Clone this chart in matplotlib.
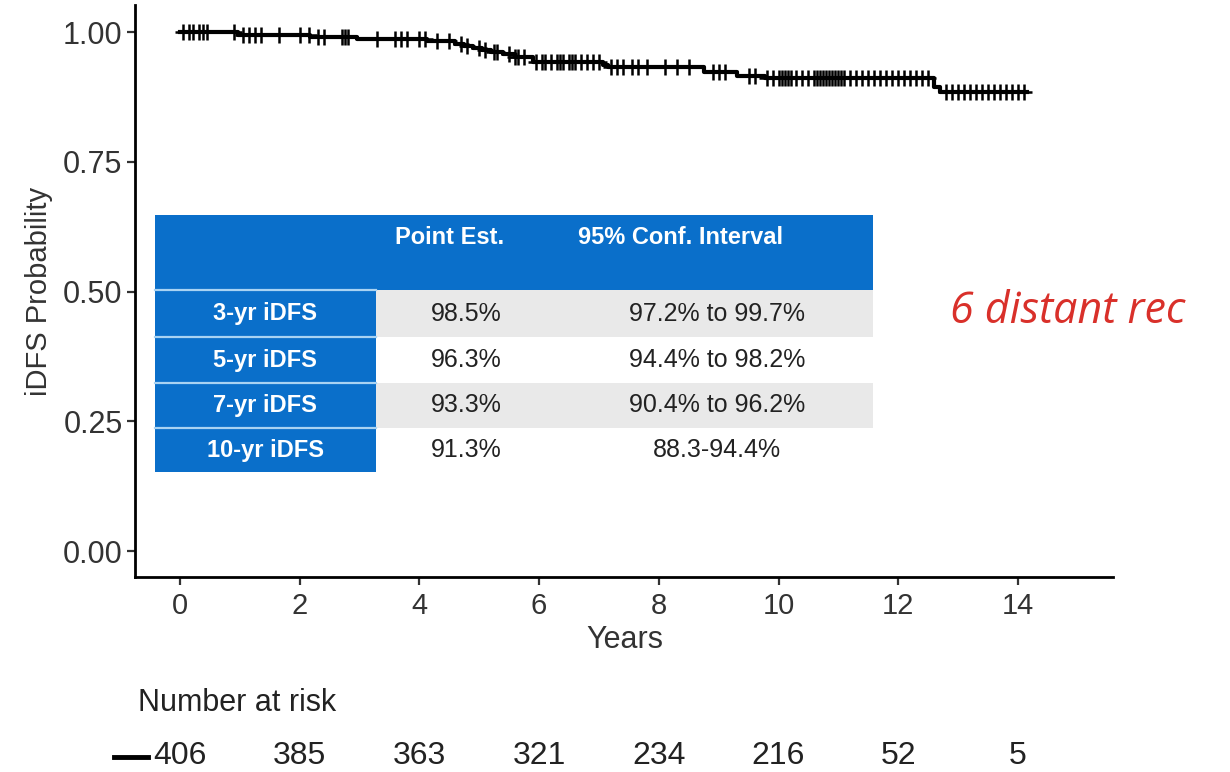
import matplotlib
matplotlib.use("Agg")
import matplotlib.pyplot as plt
from matplotlib.patches import Rectangle
from matplotlib.lines import Line2D
import matplotlib.transforms as mtransforms

# ---- data ----
event_times = [0.0, 0.97, 2.17, 2.96, 4.13, 4.6, 4.75, 4.9, 5.05, 5.2, 5.4, 5.6, 5.9,
               7.07, 7.15, 8.75, 9.3, 9.77, 12.6, 12.7]
surv_values = [1.0, 0.994, 0.990, 0.986, 0.982, 0.977, 0.973, 0.969, 0.965, 0.962, 0.957,
               0.951, 0.943, 0.937, 0.932, 0.922, 0.916, 0.912, 0.895, 0.884]
end_time = 14.15
censor_times = [0.05, 0.15, 0.22, 0.32, 0.38, 0.45, 0.9, 1.05, 1.15, 1.25, 1.35, 1.65,
                2.0, 2.15, 2.3, 2.4, 2.7, 2.75, 2.8, 3.3, 3.6, 3.7, 3.8, 4.0, 4.1, 4.3,
                4.5, 4.7, 4.8, 5.0, 5.1, 5.25, 5.3, 5.5, 5.6, 5.65, 5.75, 5.95, 6.05, 6.1,
                6.2, 6.3, 6.35, 6.4, 6.5, 6.55, 6.6, 6.7, 6.8, 6.9, 7.0, 7.2, 7.3, 7.4,
                7.55, 7.65, 7.8, 8.1, 8.3, 8.5, 8.9, 9.0, 9.1, 9.5, 9.6, 9.8, 9.9, 10.0,
                10.05, 10.1, 10.15, 10.2, 10.3, 10.4, 10.5, 10.6, 10.65, 10.7, 10.75,
                10.8, 10.85, 10.9, 10.95, 11.0, 11.05, 11.1, 11.2, 11.3, 11.4, 11.5,
                11.6, 11.7, 11.8, 11.9, 12.0, 12.1, 12.2, 12.3, 12.4, 12.5, 12.8, 12.9,
                13.0, 13.1, 13.2, 13.3, 13.4, 13.5, 13.6, 13.7, 13.8, 13.9, 14.0, 14.1]
x_ticks = [0, 2, 4, 6, 8, 10, 12, 14]
y_ticks = [0.00, 0.25, 0.50, 0.75, 1.00]
y_tick_labels = ["0.00", "0.25", "0.50", "0.75", "1.00"]
risk_counts = [406, 385, 363, 321, 234, 216, 52, 5]

table_header = ["", "Point Est.", "95% Conf. Interval"]
row_labels = ["3-yr iDFS", "5-yr iDFS", "7-yr iDFS", "10-yr iDFS"]
point_est = ["98.5%", "96.3%", "93.3%", "91.3%"]
conf_int = ["97.2% to 99.7%", "94.4% to 98.2%", "90.4% to 96.2%", "88.3-94.4%"]

FONT = "Liberation Sans"
TXT = "#333333"

# ---- figure ----
fig = plt.figure(figsize=(12.3, 7.72), dpi=100)
ax = fig.add_axes([0.1098, 0.2526, 0.905 - 0.1098, 0.9935 - 0.2526])
ax.set_xlim(-0.75, 15.59)
ax.set_ylim(-0.05, 1.052)

def surv_at(t):
    s = surv_values[0]
    for et, sv in zip(event_times, surv_values):
        if t >= et:
            s = sv
    return s

xs = event_times + [end_time]
ys = surv_values + [surv_values[-1]]
ax.step(xs, ys, where="post", color="black", lw=3.0, zorder=3)
ax.plot(censor_times, [surv_at(t) for t in censor_times], linestyle="none",
        marker="+", color="black", markersize=11, mew=1.8, zorder=3)

for s in ["top", "right"]:
    ax.spines[s].set_visible(False)
for s in ["left", "bottom"]:
    ax.spines[s].set_linewidth(2.0)
ax.tick_params(axis="both", direction="out", length=6, width=1.6, color="#333333")
ax.set_xticks(x_ticks)
ax.set_xticklabels([str(v) for v in x_ticks], fontfamily=FONT, fontsize=21, color=TXT)
ax.set_yticks(y_ticks)
ax.set_yticklabels(y_tick_labels, fontfamily=FONT, fontsize=22, color=TXT)
ax.tick_params(axis="x", pad=5)
ax.tick_params(axis="y", pad=3)
ax.set_ylabel("iDFS Probability", fontfamily=FONT, fontsize=21, color=TXT, labelpad=7)

blend = mtransforms.blended_transform_factory(ax.transData, fig.transFigure)
fig.text(625 / 1230, 1 - 640 / 772, "Years", ha="center", va="center",
         fontfamily=FONT, fontsize=22, color=TXT)
fig.text(138 / 1230, 1 - 703 / 772, "Number at risk", ha="left", va="center",
         fontfamily=FONT, fontsize=22, color="#222222")
for xv, n in zip(x_ticks, risk_counts):
    ax.text(xv, 1 - 756 / 772, str(n), transform=blend, ha="center", va="center",
            fontfamily=FONT, fontsize=23, color="#222222")
fig.add_artist(Line2D([114 / 1230, 148 / 1230], [1 - 757 / 772, 1 - 757 / 772],
                      color="black", lw=3.5, transform=fig.transFigure))

# ---- table (drawn in data coords) ----
blue = "#0a6fca"
sep = "#a9d3f3"
gray = "#e9e9e9"
x0, x1, x2 = -0.42, 3.27, 11.58
y_head_top, y_head_bot = 0.647, 0.503
row_edges = [0.503, 0.412, 0.324, 0.237, 0.152]
TF = 18

ax.add_patch(Rectangle((x0, y_head_bot), x2 - x0, y_head_top - y_head_bot,
                       facecolor=blue, edgecolor="none", zorder=4))
for i in range(4):
    top, bot = row_edges[i], row_edges[i + 1]
    ax.add_patch(Rectangle((x0, bot), x1 - x0, top - bot, facecolor=blue,
                           edgecolor="none", zorder=4))
    if i % 2 == 0:
        ax.add_patch(Rectangle((x1, bot), x2 - x1, top - bot, facecolor=gray,
                               edgecolor="none", zorder=4))
    yc = (top + bot) / 2
    ax.text((x0 + x1) / 2, yc, row_labels[i], ha="center", va="center", color="white",
            fontweight="bold", fontfamily=FONT, fontsize=TF - 1, zorder=6)
    ax.text(4.78, yc, point_est[i], ha="center", va="center", color="#222222",
            fontfamily=FONT, fontsize=TF, zorder=6)
    ax.text(8.97, yc, conf_int[i], ha="center", va="center", color="#222222",
            fontfamily=FONT, fontsize=TF, zorder=6)
for yv in row_edges[:-1]:
    ax.plot([x0, x1], [yv, yv], color=sep, lw=1.6, zorder=5)
ax.text(4.51, 0.604, table_header[1], ha="center", va="center", color="white",
        fontweight="bold", fontfamily=FONT, fontsize=TF - 1, zorder=6)
ax.text(8.37, 0.604, table_header[2], ha="center", va="center", color="white",
        fontweight="bold", fontfamily=FONT, fontsize=TF - 1, zorder=6)

fig.text(950 / 1230, 1 - 312 / 772, "6 distant rec", ha="left", va="center",
         color="#d9302a", fontstyle="italic", fontfamily="Open Sans", fontsize=31)

fig.savefig("out.png", dpi=100, facecolor="white")
